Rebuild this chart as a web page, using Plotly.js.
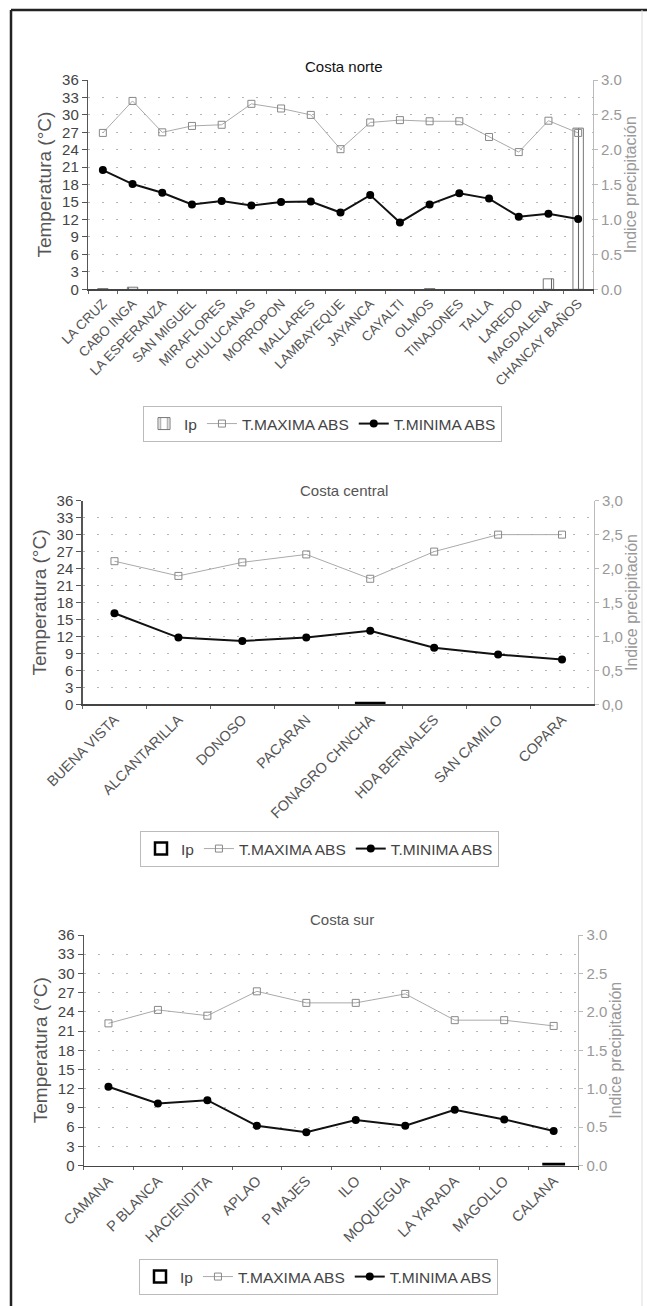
<!DOCTYPE html>
<html>
<head>
<meta charset="utf-8">
<script src="https://cdn.plot.ly/plotly-3.0.1.min.js"></script>
<style>
  html, body { margin: 0; padding: 0; background: #fff; }
  #chart { width: 647px; height: 1306px; }
</style>
</head>
<body>
<div id="chart"></div>
<script>
// ---------------- DATA ----------------
const norteCats = ['LA CRUZ','CABO INGA','LA ESPERANZA','SAN MIGUEL','MIRAFLORES','CHULUCANAS','MORROPON','MALLARES','LAMBAYEQUE','JAYANCA','CAYALTI','OLMOS','TINAJONES','TALLA','LAREDO','MAGDALENA','CHANCAY BAÑOS'];
const norteMax  = [26.9, 32.4, 27.0, 28.1, 28.3, 31.9, 31.1, 30.0, 24.1, 28.7, 29.1, 28.9, 28.9, 26.2, 23.6, 29.0, 26.9];
const norteMin  = [20.5, 18.1, 16.6, 14.6, 15.2, 14.4, 15.0, 15.1, 13.2, 16.2, 11.5, 14.6, 16.5, 15.6, 12.5, 13.0, 12.1];
const norteIp   = [0.01, 0.03, 0, 0, 0, 0, 0, 0, 0, 0, 0, 0.01, 0, 0, 0, 0.15, 2.31];

const centralCats = ['BUENA VISTA','ALCANTARILLA','DONOSO','PACARAN','FONAGRO CHNCHA','HDA BERNALES','SAN CAMILO','COPARA'];
const centralMax  = [25.3, 22.7, 25.1, 26.5, 22.2, 27.0, 30.0, 30.0];
const centralMin  = [16.1, 11.8, 11.2, 11.8, 13.0, 10.0, 8.8, 7.9];
const centralIp   = [0, 0, 0, 0, 0.02, 0, 0, 0];

const surCats = ['CAMANA','P BLANCA','HACIENDITA','APLAO','P MAJES','ILO','MOQUEGUA','LA YARADA','MAGOLLO','CALANA'];
const surMax  = [22.2, 24.3, 23.4, 27.2, 25.4, 25.4, 26.8, 22.7, 22.7, 21.8];
const surMin  = [12.3, 9.7, 10.2, 6.2, 5.2, 7.1, 6.2, 8.7, 7.2, 5.4];
const surIp   = [0, 0, 0, 0, 0, 0, 0, 0, 0, 0.02];

const tempTicks = [0, 3, 6, 9, 12, 15, 18, 21, 24, 27, 30, 33, 36];
const ipTicks = [0, 0.5, 1.0, 1.5, 2.0, 2.5, 3.0];
const ipLabelsDot = ['0.0', '0.5', '1.0', '1.5', '2.0', '2.5', '3.0'];
const ipLabelsComma = ['0,0', '0,5', '1,0', '1,5', '2,0', '2,5', '3,0'];

const chartTitles = ['Costa norte', 'Costa central', 'Costa sur'];
const seriesNames = ['Ip', 'T.MAXIMA ABS', 'T.MINIMA ABS'];

// ---------------- LAYOUT HELPERS ----------------
const W = 647, H = 1306;
const FONT = 'Liberation Sans, Arial, sans-serif';
const px = v => v / W;
const py = v => 1 - v / H;

// plot boxes in pixels: [left, right, top, bottom]
const boxes = [
  [88, 593, 80, 289.3],
  [82.5, 594, 500.7, 704.3],
  [83.7, 578.4, 935, 1165.5]
];
const titlePos = [[344, 66, '#111'], [344, 490, '#555'], [342, 919, '#555']];
const legendPos = [[143, 406], [140, 831], [139, 1259]];
const barWidths = [0.35, 0.44, 0.41];
const xFontSizes = [13.5, 14.5, 14.5];

const groups = [
  {cats: norteCats, mx: norteMax, mn: norteMin, ip: norteIp, ipLabels: ipLabelsDot},
  {cats: centralCats, mx: centralMax, mn: centralMin, ip: centralIp, ipLabels: ipLabelsComma},
  {cats: surCats, mx: surMax, mn: surMin, ip: surIp, ipLabels: ipLabelsDot}
];

const data = [];
const layout = {
  width: W, height: H,
  margin: {l: 0, r: 0, t: 0, b: 0},
  paper_bgcolor: '#fff', plot_bgcolor: 'rgba(0,0,0,0)',
  font: {family: FONT, color: '#444'},
  showlegend: true,
  annotations: [],
  shapes: [
    {type: 'line', xref: 'paper', yref: 'paper', x0: px(11), x1: 1, y0: py(10), y1: py(10), line: {color: '#222', width: 2.5}},
    {type: 'line', xref: 'paper', yref: 'paper', x0: px(11), x1: px(11), y0: py(10), y1: 0, line: {color: '#222', width: 2.5}},
    {type: 'line', xref: 'paper', yref: 'paper', x0: px(642), x1: px(642), y0: py(10), y1: 0, line: {color: '#ddd', width: 1}}
  ]
};

groups.forEach((g, i) => {
  const k = i + 1;
  const xId = k === 1 ? 'x' : 'x' + k;
  const ipId = 'y' + (2 * k - 1);
  const tId = 'y' + (2 * k);
  const xKey = k === 1 ? 'xaxis' : 'xaxis' + k;
  const ipKey = (2 * k - 1) === 1 ? 'yaxis' : 'yaxis' + (2 * k - 1);
  const tKey = 'yaxis' + (2 * k);
  const legKey = k === 1 ? 'legend' : 'legend' + k;
  const [L, R, T, B] = boxes[i];

  const barMarker = (k === 1)
    ? {color: '#fff', line: {color: '#777', width: 1},
       pattern: {shape: '|', fgcolor: '#666', bgcolor: '#fff', size: 9, solidity: 0.12}}
    : {color: '#fff', line: {color: '#000', width: 2.5}};

  data.push({
    type: 'bar', name: seriesNames[0], x: g.cats,
    y: g.ip.map(v => (v > 0 ? v : null)),
    xaxis: xId, yaxis: ipId, legend: legKey,
    width: barWidths[i], marker: barMarker, hoverinfo: 'x+y'
  });
  data.push({
    type: 'scatter', mode: 'lines+markers', name: seriesNames[1], x: g.cats, y: g.mx,
    xaxis: xId, yaxis: tId, legend: legKey,
    line: {color: '#aaa', width: 1},
    marker: {symbol: 'square-open', size: 7, color: '#888', line: {width: 1}}
  });
  data.push({
    type: 'scatter', mode: 'lines+markers', name: seriesNames[2], x: g.cats, y: g.mn,
    xaxis: xId, yaxis: tId, legend: legKey,
    line: {color: '#111', width: 2},
    marker: {symbol: 'circle', size: 8, color: '#000'}
  });

  layout[xKey] = {
    domain: [px(L), px(R)], anchor: ipId, type: 'category',
    range: [-0.5, g.cats.length - 0.5],
    showline: true, linecolor: '#444', linewidth: 1.2,
    ticks: 'outside', ticklen: 3, tickcolor: '#666', tickson: 'boundaries',
    tickangle: -45, tickfont: {size: xFontSizes[i], color: '#555'},
    showgrid: false, zeroline: false, fixedrange: true
  };
  layout[ipKey] = {
    domain: [py(B), py(T)], anchor: xId, side: 'right',
    range: [0, 3], tickvals: ipTicks, ticktext: g.ipLabels,
    showline: true, linecolor: '#bbb', linewidth: 1,
    ticks: 'outside', ticklen: 4, tickcolor: '#bbb',
    tickfont: {size: 15, color: '#999'},
    showgrid: false, zeroline: false,
    title: {text: 'Indice precipitación', font: {size: 16, color: '#999'}, standoff: 2}
  };
  layout[tKey] = {
    overlaying: ipId, anchor: xId, side: 'left',
    range: [0, 36], tickvals: tempTicks,
    showline: true, linecolor: '#555', linewidth: 1.2,
    ticks: 'outside', ticklen: 5, tickcolor: '#555',
    tickfont: {size: 15, color: '#444'},
    showgrid: true, gridcolor: '#b5b5b5', gridwidth: 1, griddash: '2px,12px',
    zeroline: false,
    title: {text: 'Temperatura (°C)', font: {size: 19, color: '#555'}, standoff: 5}
  };
  layout[legKey] = {
    orientation: 'h', x: px(legendPos[i][0]), y: py(legendPos[i][1]),
    xanchor: 'left', yanchor: 'top',
    bordercolor: '#bbb', borderwidth: 1, bgcolor: '#fff',
    font: {size: 15.5, color: '#444'}, itemwidth: 30, tracegroupgap: 0
  };
  layout.annotations.push({
    xref: 'paper', yref: 'paper', x: px(titlePos[i][0]), y: py(titlePos[i][1]),
    xanchor: 'center', yanchor: 'middle', showarrow: false,
    text: chartTitles[i], font: {size: 15, color: titlePos[i][2]}
  });
});

Plotly.newPlot('chart', data, layout, {displayModeBar: false, staticPlot: true});
</script>
</body>
</html>
